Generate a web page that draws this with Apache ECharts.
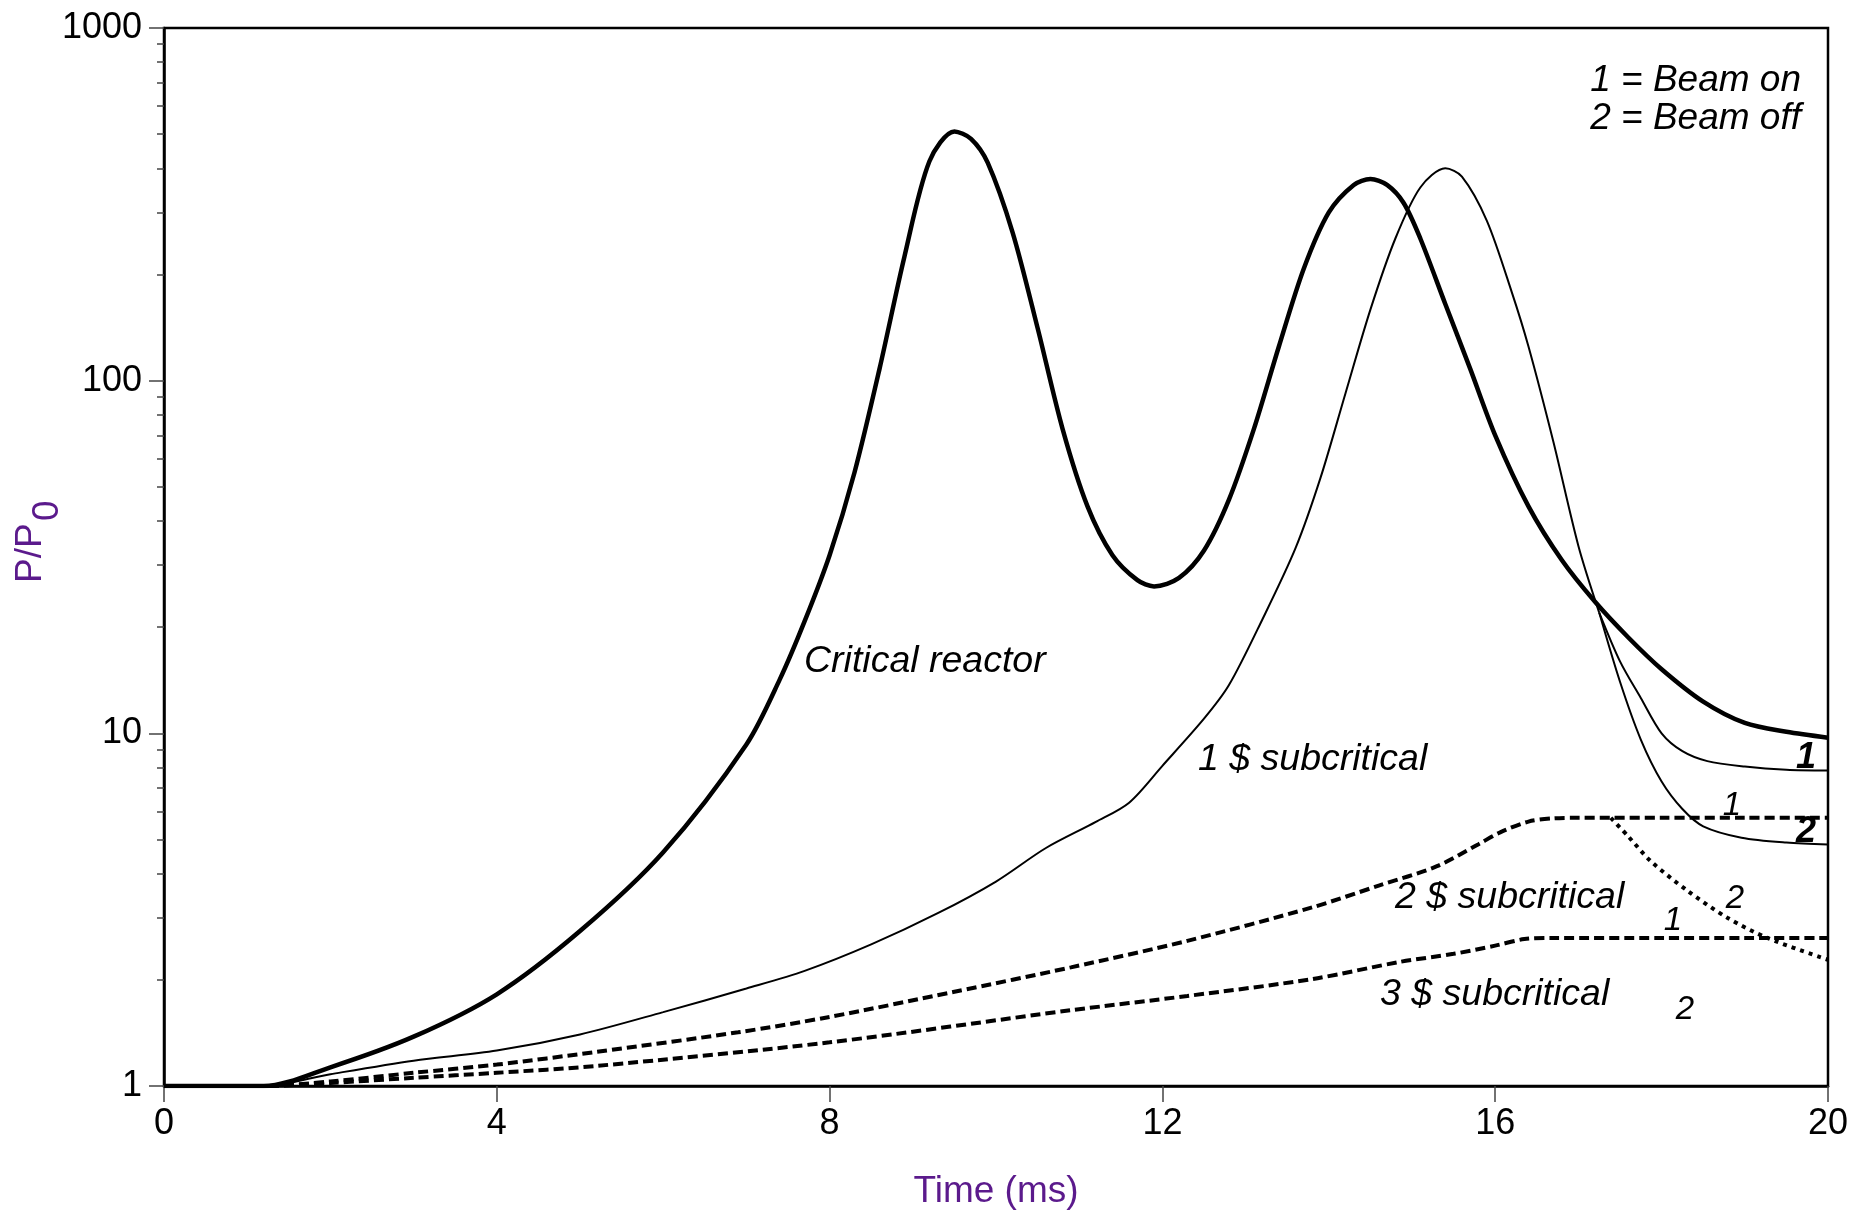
<!DOCTYPE html>
<html><head><meta charset="utf-8">
<script src="https://cdn.jsdelivr.net/npm/echarts@6/dist/echarts.min.js"></script>
<style>html,body{margin:0;padding:0;background:#fff}#c{width:1865px;height:1216px}</style>
</head><body><div id="c"></div>
<script>
// ---- data ----
const xTickValues = [0, 4, 8, 12, 16, 20];
const yTickLabels = ['1', '10', '100', '1000'];
const yMinorTicks = [2,3,4,5,6,7,8,9,20,30,40,50,60,70,80,90,200,300,400,500,600,700,800,900];

const critT = [0, 1.2, 2.0, 3.0, 4.0, 5.0, 6.0, 7.0, 7.4, 7.7, 8.0, 8.3, 8.6, 8.9, 9.2, 9.5, 9.7, 9.9, 10.2, 10.5, 10.8, 11.1, 11.4, 11.7, 11.9, 12.2, 12.5, 12.8, 13.1, 13.4, 13.7, 14.0, 14.3, 14.5, 14.7, 14.9, 15.1, 15.4, 15.7, 16.0, 16.4, 16.8, 17.2, 17.6, 18.0, 18.5, 19.0, 19.5, 20];
const critP = [1, 1, 1.13, 1.38, 1.82, 2.75, 4.6, 9.3, 14.2, 20.8, 32, 55, 108, 225, 419, 509, 485, 415, 263, 141, 73, 44, 32, 27.2, 26.1, 27.6, 33, 46, 73, 125, 208, 300, 359, 373, 359, 319, 253, 165, 108, 70, 44, 31, 23.6, 18.7, 15.2, 12.3, 10.7, 10.1, 9.72];

const sub1T = [0, 1.2, 2, 3, 4, 5, 6, 7, 7.7, 8.5, 9.3, 10.0, 10.6, 11.2, 11.6, 12.0, 12.5, 12.8, 13.2, 13.6, 13.9, 14.2, 14.5, 14.8, 15.1, 15.4, 15.6, 15.9, 16.2, 16.4, 16.7, 17.0, 17.25];
const sub1P = [1, 1, 1.08, 1.18, 1.26, 1.4, 1.62, 1.89, 2.12, 2.52, 3.09, 3.8, 4.73, 5.61, 6.36, 8.09, 11.0, 13.7, 21, 33.5, 53, 92, 159, 253, 353, 400, 379, 284, 178, 125, 67, 34, 22];
const sub1OnT = [17.25, 17.5, 17.75, 18.0, 18.25, 18.55, 19.0, 19.5, 20];
const sub1OnP = [22, 16.0, 12.6, 10.0, 8.9, 8.34, 8.05, 7.88, 7.84];
const sub1OffT = [17.25, 17.5, 17.75, 18.0, 18.25, 18.5, 18.96, 19.5, 20];
const sub1OffP = [22, 14.0, 9.6, 7.3, 6.1, 5.45, 5.06, 4.9, 4.84];

const sub2T = [0, 1.2, 2, 3, 4, 5.2, 6.9, 8.0, 9.5, 10.9, 12.3, 13.8, 14.6, 15.3, 15.8, 16.06, 16.4, 16.7, 17.0, 17.4, 18, 19, 20];
const sub2P = [1, 1, 1.03, 1.09, 1.15, 1.25, 1.42, 1.57, 1.85, 2.17, 2.58, 3.21, 3.7, 4.2, 4.85, 5.24, 5.62, 5.74, 5.76, 5.76, 5.76, 5.76, 5.76];
const sub2OffT = [17.39, 17.6, 17.87, 18.31, 18.79, 19.27, 20];
const sub2OffP = [5.76, 5.1, 4.34, 3.58, 3.0, 2.63, 2.28];

const sub3T = [0, 1.2, 2, 3, 4, 5.2, 8.0, 10.9, 12.3, 13.8, 14.86, 15.5, 16.0, 16.35, 16.7, 18, 19, 20];
const sub3P = [1, 1, 1.02, 1.055, 1.09, 1.14, 1.33, 1.64, 1.8, 2.01, 2.25, 2.37, 2.5, 2.61, 2.63, 2.63, 2.63, 2.63];

// ---- chart ----
const FONT = '"Liberation Sans", Arial, Helvetica, sans-serif';
const PURPLE = '#5b1a8c';
const zip = (a, b) => a.map((v, i) => [v, b[i]]);
const chart = echarts.init(document.getElementById('c'), null, {renderer: 'canvas'});

function line(t, p, width, type) {
  return {
    type: 'line', data: zip(t, p), showSymbol: false, symbol: 'none', smooth: 0.3,
    silent: true, yAxisIndex: 0,
    lineStyle: {color: '#000', width: width, type: type || 'solid', cap: 'butt'}
  };
}
function txt(x, y, text, font, align) {
  return {type: 'text', x: x, y: y, silent: true,
    style: {text: text, font: font, fill: '#000', align: align || 'left', verticalAlign: 'middle'}};
}
const IT = 'italic 37.5px ' + FONT;
const ITs = 'italic 33px ' + FONT;
const BI = 'italic bold 36px ' + FONT;

chart.setOption({
  animation: false,
  backgroundColor: '#fff',
  grid: {left: 164, right: 37, top: 28, bottom: 130, show: true, borderColor: '#000', borderWidth: 2.5, backgroundColor: 'transparent'},
  xAxis: {
    type: 'value', min: 0, max: 20, interval: 4,
    axisLine: {show: true, onZero: false, lineStyle: {color: '#000', width: 2.5}},
    axisTick: {show: true, length: 16, lineStyle: {color: '#444', width: 1.5}},
    axisLabel: {fontSize: 36, color: '#000', margin: 20, fontFamily: FONT,
      formatter: v => (xTickValues.indexOf(v) >= 0 ? String(v) : '')},
    splitLine: {show: false},
    name: 'Time (ms)', nameLocation: 'middle', nameGap: 87,
    nameTextStyle: {fontSize: 37, color: PURPLE, fontFamily: FONT}
  },
  yAxis: [{
    type: 'log', logBase: 10, min: 1, max: 1000,
    axisLine: {show: true, lineStyle: {color: '#000', width: 2.5}},
    axisTick: {show: true, length: 15, lineStyle: {color: '#444', width: 1.5}},
    axisLabel: {fontSize: 36, color: '#000', margin: 22, fontFamily: FONT,
      formatter: v => yTickLabels[Math.round(Math.log10(v))] || ''},
    splitLine: {show: false}
  }, {
    type: 'log', logBase: 10, min: 1, max: 1000, position: 'left',
    axisLine: {show: false},
    axisTick: {show: true, length: 7, customValues: yMinorTicks, lineStyle: {color: '#444', width: 1.5}},
    axisLabel: {show: false},
    splitLine: {show: false}
  }],
  series: [
    line(sub3T, sub3P, 4, [10, 5]),
    line(sub2T, sub2P, 4, [10, 5]),
    line(sub2OffT, sub2OffP, 4, [4, 5]),
    line(sub1T, sub1P, 2),
    line(sub1OnT, sub1OnP, 2),
    line(sub1OffT, sub1OffP, 2),
    line(critT, critP, 4.5)
  ],
  graphic: [
    {type: 'text', x: 31, y: 583, rotation: Math.PI / 2, silent: true,
      style: {text: 'P/P', font: '37px ' + FONT, fill: PURPLE, align: 'left', verticalAlign: 'middle'}},
    {type: 'text', x: 47.5, y: 521, rotation: Math.PI / 2, silent: true,
      style: {text: '0', font: '37px ' + FONT, fill: PURPLE, align: 'left', verticalAlign: 'middle'}},
    txt(1801, 80.5, '1 = Beam on', 'italic 37px ' + FONT, 'right'),
    txt(1801, 119, '2 = Beam off', 'italic 37px ' + FONT, 'right'),
    txt(804, 662, 'Critical reactor', IT),
    txt(1198, 760, '1 $ subcritical', IT),
    txt(1395, 898, '2 $ subcritical', IT),
    txt(1380, 995, '3 $ subcritical', IT),
    txt(1806, 758, '1', BI, 'center'),
    txt(1806, 832, '2', BI, 'center'),
    txt(1732, 806, '1', ITs, 'center'),
    txt(1735, 899, '2', ITs, 'center'),
    txt(1673, 921, '1', ITs, 'center'),
    txt(1685, 1010, '2', ITs, 'center')
  ]
});
</script></body></html>
